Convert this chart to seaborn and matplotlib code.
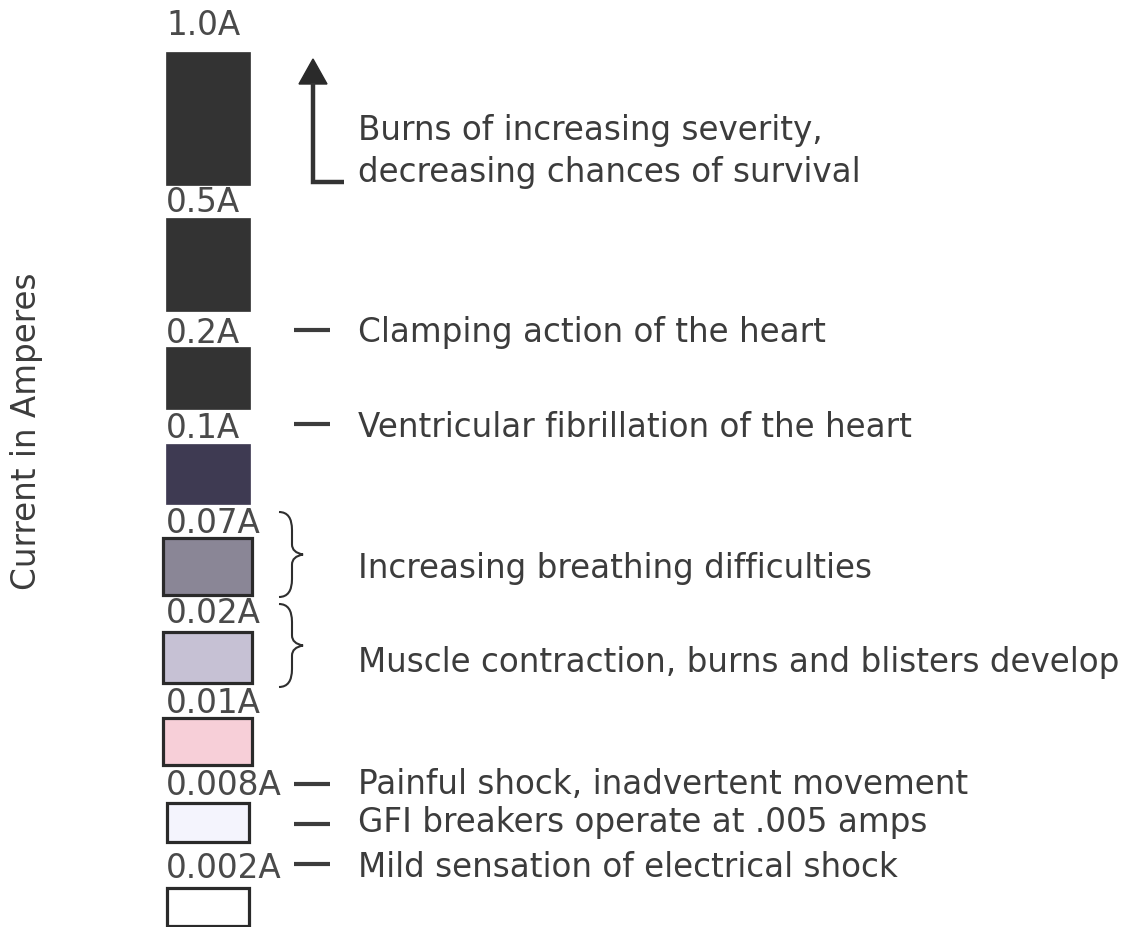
import numpy as np
import matplotlib.pyplot as plt
import seaborn as sns
from matplotlib.path import Path
from matplotlib.patches import PathPatch, Polygon

# --- data ---
amp_labels = ["1.0A", "0.5A", "0.2A", "0.1A", "0.07A", "0.02A", "0.01A", "0.008A", "0.002A"]
amp_values = [1.0, 0.5, 0.2, 0.1, 0.07, 0.02, 0.01, 0.008, 0.002]
block_colors = ["#333333", "#333333", "#333333", "#3e3a52", "#8a8696",
                "#c6c1d4", "#f7cfd8", "#f4f4fd", "#ffffff"]
block_outlined = [False, False, False, False, True, True, True, True, True]

effects = [
    "Burns of increasing severity,\ndecreasing chances of survival",
    "Clamping action of the heart",
    "Ventricular fibrillation of the heart",
    "Increasing breathing difficulties",
    "Muscle contraction, burns and blisters develop",
    "Painful shock, inadvertent movement",
    "GFI breakers operate at .005 amps",
    "Mild sensation of electrical shock",
]
effect_markers = ["arrow", "dash", "dash", "brace", "brace", "dash", "dash", "dash"]
y_title = "Current in Amperes"

# --- layout (pixel units of the picture) ---
label_baseline = [35, 212, 343, 438, 533, 623, 713, 795, 878]
block_top = [53, 219, 348, 445, 539, 633, 719, 804, 889]
block_bottom = [186, 312, 410, 505, 596, 684, 766, 843, 927]
block_left = [166, 166, 166, 166, 163, 163, 163, 167, 167]
block_right = [250, 250, 250, 250, 252, 252, 252, 249, 249]
effect_baseline = [140, 342, 437, 578, 672, 794, 832, 877]
effect_marker_y = [(60, 183), 331, 425, (513, 598), (605, 688), 785, 825, 865]

sns.set_theme(style="white")
plt.rcParams['font.family'] = ['DejaVu Sans']

fig = plt.figure(figsize=(11.35, 9.28), dpi=100)
ax = fig.add_axes([0, 0, 1, 1])
ax.set_xlim(0, 1135)
ax.set_ylim(928, 0)
ax.axis('off')

txt_color = "#3c3c3c"
fs = 23.5

# blocks
heights = np.array(block_bottom) - np.array(block_top)
widths = np.array(block_right) - np.array(block_left)
for i in range(len(amp_labels)):
    ax.bar(block_left[i], heights[i], width=widths[i], bottom=block_top[i], align='edge',
           color=block_colors[i],
           edgecolor="#2a2a2a" if block_outlined[i] else block_colors[i],
           linewidth=2.3 if block_outlined[i] else 0.5)
    ax.text(166, label_baseline[i], amp_labels[i], fontsize=fs, color="#4a4a4a",
            ha='left', va='baseline')


def brace(y0, y1, x0=279, xm=292, xt=303):
    ym = (y0 + y1) / 2
    verts = [(x0, y0), (xm, y0), (xm, y0 + 18),
             (xm, ym - 10), (xm, ym - 2), (xt, ym),
             (xm, ym + 2), (xm, ym + 10),
             (xm, y1 - 18), (xm, y1), (x0, y1)]
    codes = [Path.MOVETO, Path.CURVE3, Path.CURVE3,
             Path.LINETO, Path.CURVE3, Path.CURVE3,
             Path.CURVE3, Path.CURVE3,
             Path.LINETO, Path.CURVE3, Path.CURVE3]
    ax.add_patch(PathPatch(Path(verts, codes), fill=False,
                           edgecolor="#2e2e2e", linewidth=1.5))


for i, text in enumerate(effects):
    for j, line in enumerate(text.split("\n")):
        ax.text(358, effect_baseline[i] + j * 42, line, fontsize=fs, color=txt_color,
                ha='left', va='baseline')
    m = effect_markers[i]
    my = effect_marker_y[i]
    if m == "dash":
        ax.hlines(my, 294, 330, color="#3c3c3c", linewidth=3)
    elif m == "brace":
        brace(my[0], my[1])
    elif m == "arrow":
        tip, corner = my
        ax.plot([344, 313, 313], [corner, corner, tip + 24], color="#333333",
                linewidth=3.2, solid_joinstyle='miter', solid_capstyle='butt')
        ax.add_patch(Polygon([(299, tip + 25), (327, tip + 25), (313, tip)],
                             closed=True, color="#2a2a2a"))

ax.text(27, 431, y_title, fontsize=fs, color=txt_color, rotation=90,
        ha='center', va='center')

fig.savefig("out.png", dpi=100)
